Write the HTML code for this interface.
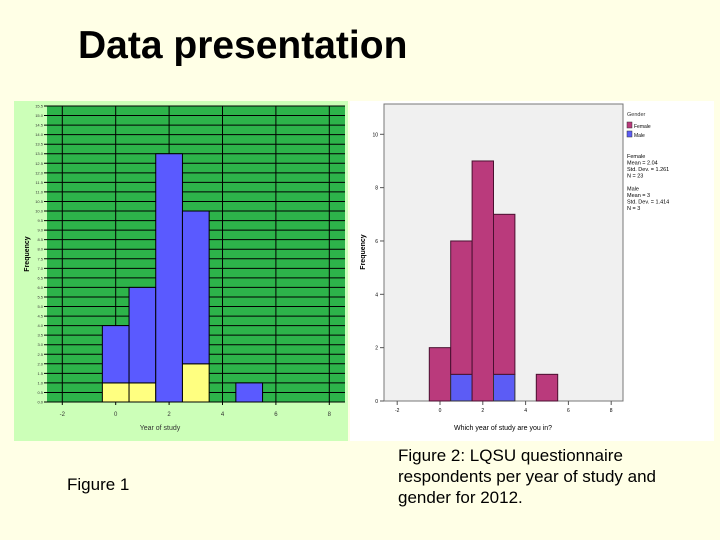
<!DOCTYPE html>
<html><head><meta charset="utf-8">
<style>
body{margin:0;width:720px;height:540px;background:#FFFFE6;position:relative;overflow:hidden;font-family:"Liberation Sans",sans-serif}
.t{position:absolute;margin:0}
</style></head><body>
<div class="t" style="left:78px;top:24px;font-size:39px;font-weight:bold;color:#000">Data presentation</div>
<div class="t" style="left:67px;top:475px;font-size:17px">Figure 1</div>
<div class="t" style="left:398px;top:445px;font-size:17px;line-height:21px">Figure 2: LQSU questionnaire<br>respondents per year of study and<br>gender for 2012.</div>
<svg id="c1" width="720" height="540" style="position:absolute;left:0;top:0"></svg>
<script>
// Figure 1 data
const years1 = [0, 1, 2, 3, 5];
const yellowVals = [1, 1, 0, 2, 0];
const blueVals = [3, 5, 13, 8, 1];
const xTicks1 = [-2, 0, 2, 4, 6, 8];
// Figure 2 data
const years2 = [0, 1, 2, 3, 5];
const maleVals = [0, 1, 0, 1, 0];
const femaleVals = [2, 5, 9, 6, 1];
const xTicks2 = [-2, 0, 2, 4, 6, 8];
const yTicks2 = [0, 2, 4, 6, 8, 10];
const legendItems = ["Female", "Male"];
const statsLines = ["Female", "Mean = 2.04", "Std. Dev. = 1.261", "N = 23", "", "Male", "Mean = 3", "Std. Dev. = 1.414", "N = 3"];

const NS = "http://www.w3.org/2000/svg";
const svg = document.getElementById('c1');
function mk(tag, attrs, parent) { const e = document.createElementNS(NS, tag); for (const k in attrs) e.setAttribute(k, attrs[k]); (parent || svg).appendChild(e); return e; }
function txt(x, y, s, attrs) { const e = mk('text', Object.assign({x: x, y: y}, attrs)); e.textContent = s; return e; }

// ---- Figure 1 ----
let e = mk('rect', {x: 14, y: 101, width: 334, height: 340, fill: '#CCFFB8'});
 
const L1 = 47, R1 = 345, T1 = 106, B1 = 402, yMax1 = 15.5;
const x1 = v => 115.7 + v * 26.7;
const y1 = v => B1 - (v / yMax1) * (B1 - T1);
e = mk('rect', {x: L1, y: T1, width: R1 - L1, height: B1 - T1, fill: '#2DB34A'});
 
for (let v = 0; v <= yMax1 + 0.001; v += 0.5) {
  const yy = y1(v);
  e = mk('line', {x1: L1 - 3, x2: R1, y1: yy, y2: yy, stroke: '#000', 'stroke-width': 1});
   
  e = txt(L1 - 4, yy + 1.5, v.toFixed(1), {'font-size': 4, 'text-anchor': 'end', fill: '#333'});
   
}
xTicks1.forEach(t => {
  e = mk('line', {x1: x1(t), x2: x1(t), y1: T1, y2: B1 + 3, stroke: '#000', 'stroke-width': 1});
   
  e = txt(x1(t), B1 + 14, String(t), {'font-size': 6, 'text-anchor': 'middle', fill: '#333'});
   
});
years1.forEach((yr, i) => {
  const xl = x1(yr - 0.5), w = 26.7;
  if (yellowVals[i] > 0) {
    e = mk('rect', {x: xl, y: y1(yellowVals[i]), width: w, height: B1 - y1(yellowVals[i]), fill: '#FFFF80', stroke: '#000', 'stroke-width': 1});
     
  }
  if (blueVals[i] > 0) {
    const top = y1(yellowVals[i] + blueVals[i]), bot = y1(yellowVals[i]);
    e = mk('rect', {x: xl, y: top, width: w, height: bot - top, fill: '#5A5AFF', stroke: '#000', 'stroke-width': 1});
     
  }
});
e = txt(29, 254, 'Frequency', {'font-size': 7, 'font-weight': 'bold', 'text-anchor': 'middle', transform: 'rotate(-90 29 254)'});
 
e = txt(160, 430, 'Year of study', {'font-size': 7, 'text-anchor': 'middle', fill: '#333'});
 

// ---- Figure 2 ----
e = mk('rect', {x: 350, y: 101, width: 364, height: 340, fill: '#FFFFFF'});
 
const L2 = 384, R2 = 623, T2 = 104, B2 = 401;
const x2 = v => 440 + v * 21.4;
const y2 = v => B2 - v * 26.67;
e = mk('rect', {x: L2, y: T2, width: R2 - L2, height: B2 - T2, fill: '#F0F0F0', stroke: '#777', 'stroke-width': 1});
 
yTicks2.forEach(t => {
  e = mk('line', {x1: L2 - 4, x2: L2, y1: y2(t), y2: y2(t), stroke: '#555'});
   
  e = txt(L2 - 6, y2(t) + 2, String(t), {'font-size': 5, 'text-anchor': 'end'});
   
});
xTicks2.forEach(t => {
  e = mk('line', {x1: x2(t), x2: x2(t), y1: B2, y2: B2 + 4, stroke: '#555'});
   
  e = txt(x2(t), B2 + 11, String(t), {'font-size': 5, 'text-anchor': 'middle'});
   
});
years2.forEach((yr, i) => {
  const xl = x2(yr - 0.5), w = 21.4;
  if (maleVals[i] > 0) {
    e = mk('rect', {x: xl, y: y2(maleVals[i]), width: w, height: B2 - y2(maleVals[i]), fill: '#5C5CF5', stroke: '#333', 'stroke-width': 1});
     
  }
  if (femaleVals[i] > 0) {
    const top = y2(maleVals[i] + femaleVals[i]), bot = y2(maleVals[i]);
    e = mk('rect', {x: xl, y: top, width: w, height: bot - top, fill: '#BA3A7C', stroke: '#4A1030', 'stroke-width': 1});
     
  }
});
e = txt(365, 252, 'Frequency', {'font-size': 7, 'font-weight': 'bold', 'text-anchor': 'middle', transform: 'rotate(-90 365 252)'});
 
e = txt(503, 430, 'Which year of study are you in?', {'font-size': 7, 'text-anchor': 'middle'});
 
e = txt(627, 116, 'Gender', {'font-size': 5.5, fill: '#333'});
 
const legCols = ['#BA3A7C', '#5C5CF5'];
legendItems.forEach((s, i) => {
  e = mk('rect', {x: 627, y: 122 + i * 9, width: 5, height: 6, fill: legCols[i], stroke: '#333', 'stroke-width': 0.5});
   
  e = txt(634, 128 + i * 9, s, {'font-size': 5});
   
});
statsLines.forEach((s, i) => {
  if (!s) return;
  e = txt(627, 158 + i * 6.5, s, {'font-size': 5.5});
   
});
</script>
</body></html>
